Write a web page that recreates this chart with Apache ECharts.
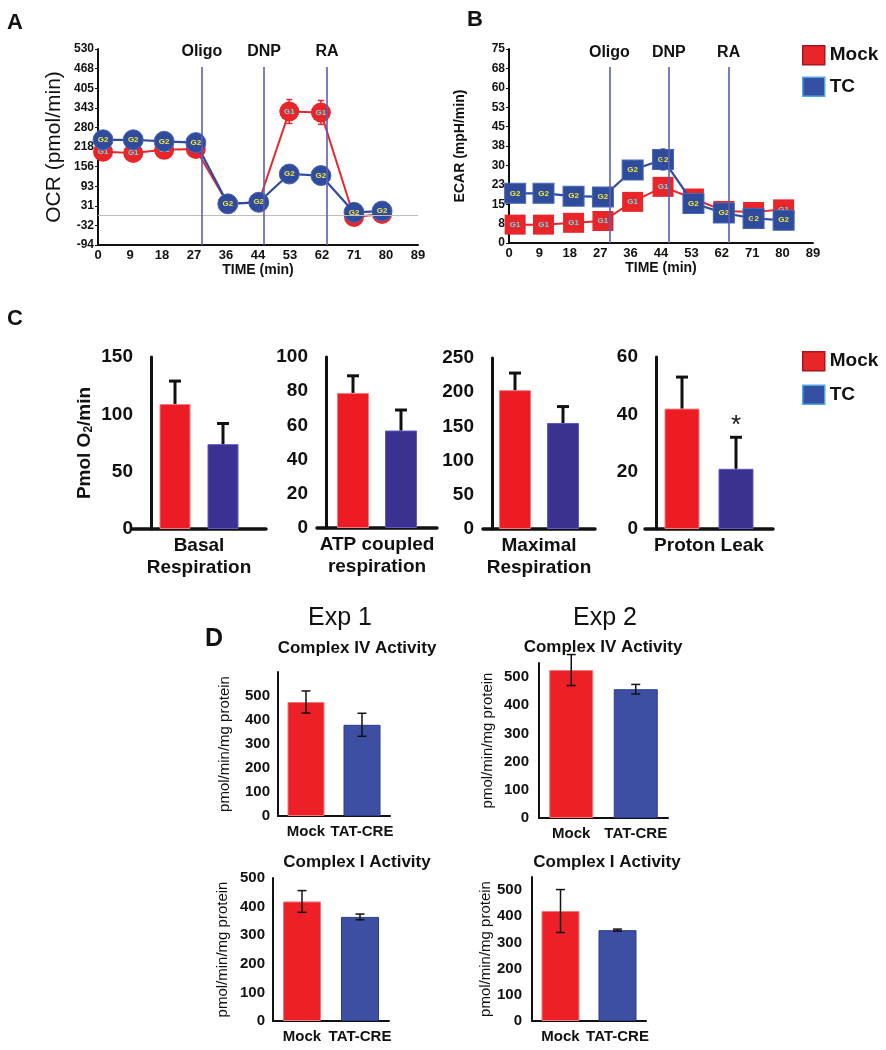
<!DOCTYPE html>
<html>
<head>
<meta charset="utf-8">
<title>OCR / ECAR / complex activity</title>
<script src="https://cdn.jsdelivr.net/npm/echarts@6.0.0/dist/echarts.min.js"></script>
<style>
  html, body { margin: 0; padding: 0; background: #fff; }
  #main { width: 886px; height: 1050px; }
</style>
</head>
<body>
<div id="main"></div>
<script>
// ---------- data ----------
// A: OCR seahorse trace
var timeA = [1.4, 9.8, 18.4, 27.2, 36.1, 44.7, 53.2, 62.0, 71.2, 79.0];
var ocrMock = [203, 199, 209, 212, 37, 42, 331, 328, -5, 5];
var ocrMockErr = [0, 0, 0, 0, 0, 0, 38, 38, 0, 0];
var ocrTC = [241, 241, 236, 232, 37, 42, 132, 127, 10, 14];
var ocrTicks = ['-94', '-32', '31', '93', '156', '218', '280', '343', '405', '468', '530'];
var injectA = [28.9, 46.2, 63.7];

// B: ECAR trace
var timeB = [1.8, 10.1, 18.9, 27.5, 36.2, 45.1, 54.0, 62.9, 71.6, 80.4];
var ecarMock = [7.1, 7.1, 7.8, 8.5, 15.9, 21.7, 17.2, 12.4, 12.0, 13.0];
var ecarTC = [19.2, 19.2, 18.1, 17.8, 28.2, 32.3, 15.3, 11.6, 9.5, 8.8];
var ecarTCErr = [0, 0, 0, 0, 0, 4, 0, 0, 3.5, 0];
var ecarTicks = ['0', '8', '15', '23', '30', '38', '45', '53', '60', '68', '75'];
var injectB = [29.4, 46.8, 64.3];

var injectNames = ['Oligo', 'DNP', 'RA'];
var timeTicks = ['0', '9', '18', '27', '36', '44', '53', '62', '71', '80', '89'];

// C: respiration parameters
var cCats = ['Basal\nRespiration', 'ATP coupled\nrespiration', 'Maximal\nRespiration', 'Proton Leak'];
var cMock = [109, 79, 203, 42];
var cMockErr = [20, 10, 25, 11];
var cTC = [74, 57, 155, 21];
var cTCErr = [18, 12, 24, 11];
var cSig = ['', '', '', '*'];
var cMax = [150, 100, 250, 60];
var cStep = [50, 20, 50, 20];

// D: complex activities
var dTitles = ['Complex IV Activity', 'Complex IV Activity', 'Complex I Activity', 'Complex I Activity'];
var dCats = ['Mock', 'TAT-CRE'];
var dMock = [475, 525, 418, 420];
var dMockErr = [46, 55, 38, 82];
var dTat = [380, 457, 364, 347];
var dTatErr = [48, 17, 10, 4];
var dMax = [600, 550, 500, 550];

// ---------- styling / layout ----------
var FONT = '"Liberation Sans", Arial, Helvetica, sans-serif';
var RED = '#E8262A', BLUE = '#2F4C9C';
var INK = '#111';
var shiftA = -(-94);   // OCR axis starts at -94; values shifted so min is 0
var ocrStep = 62.4, timeStep = 8.9;

var grids = [], xAxes = [], yAxes = [], series = [];

function addPanel(grid, xa, ya) {
  var k = grids.length;
  grids.push(grid);
  xa.gridIndex = k; ya.gridIndex = k;
  xAxes.push(xa); yAxes.push(ya);
  return k;
}

function errBar(o) {
  return function (params, api) {
    var x = api.value(0), y = api.value(1), e = api.value(2);
    if (!e) return;
    var top = api.coord([x, y + e]);
    var bot = o.up ? api.coord([x, y]) : api.coord([x, y - e]);
    var cx = top[0] + (o.offset || 0), h = o.cap / 2;
    var st = { stroke: o.color, lineWidth: o.width };
    var kids = [
      { type: 'line', shape: { x1: cx, y1: top[1], x2: cx, y2: bot[1] }, style: st },
      { type: 'line', shape: { x1: cx - h, y1: top[1], x2: cx + h, y2: top[1] }, style: st }
    ];
    if (!o.up) kids.push({ type: 'line', shape: { x1: cx - h, y1: bot[1], x2: cx + h, y2: bot[1] }, style: st });
    if (o.sig) kids.push({ type: 'text', x: cx, y: top[1] + 2,
      style: { text: o.sig, fill: INK, font: '26px ' + FONT, align: 'center', verticalAlign: 'bottom', textAlign: 'center', textVerticalAlign: 'bottom' } });
    return { type: 'group', children: kids };
  };
}

function traceX() {
  return {
    type: 'value', min: 0, max: 89, interval: timeStep,
    axisLine: { onZero: false, lineStyle: { color: INK, width: 2 } },
    axisTick: { show: false }, splitLine: { show: false },
    axisLabel: { formatter: function (v) { return timeTicks[Math.round(v / timeStep)]; },
      fontWeight: 'bold', fontSize: 13, color: INK, margin: 4 },
    name: 'TIME (min)', nameLocation: 'middle', nameGap: 17,
    nameTextStyle: { fontWeight: 'bold', fontSize: 14, color: INK }
  };
}

function injectLines(times, top) {
  return {
    silent: true, symbol: ['none', 'none'],
    lineStyle: { color: '#5C5EB3', width: 1.6, type: 'solid' },
    label: { show: true, position: 'end', formatter: '{b}', fontWeight: 'bold', fontSize: 16, color: INK, distance: 7 },
    data: times.map(function (t, i) { return [{ name: injectNames[i], coord: [t, 0] }, { coord: [t, top] }]; })
  };
}

// ---------- A ----------
var gA = addPanel({ left: 98, top: 49, width: 320, height: 196 }, traceX(), {
  type: 'value', min: 0, max: 624, interval: ocrStep,
  axisLine: { show: true, lineStyle: { color: INK, width: 2 } },
  axisTick: { show: true, length: 3, lineStyle: { color: INK } }, splitLine: { show: false },
  axisLabel: { formatter: function (v) { return ocrTicks[Math.round(v / ocrStep)]; },
    fontWeight: 'bold', fontSize: 12, color: INK, margin: 4 },
  name: 'OCR (pmol/min)', nameLocation: 'middle', nameGap: 33,
  nameTextStyle: { fontSize: 21, color: INK }
});
series.push({
  name: 'Mock', type: 'line', xAxisIndex: gA, yAxisIndex: gA, z: 3,
  data: timeA.map(function (t, i) { return [t, ocrMock[i] + shiftA]; }),
  symbol: 'circle', symbolSize: 20, itemStyle: { color: RED }, lineStyle: { color: RED, width: 2 },
  label: { show: true, position: 'inside', formatter: 'G1', fontSize: 8, fontWeight: 'bold', color: '#5FE0E8' },
  markLine: { silent: true, symbol: ['none', 'none'], label: { show: false },
    lineStyle: { color: '#BDBDBD', width: 1, type: 'solid' }, data: [{ yAxis: shiftA }] }
});
series.push({
  type: 'custom', xAxisIndex: gA, yAxisIndex: gA, z: 2,
  data: timeA.map(function (t, i) { return [t, ocrMock[i] + shiftA, ocrMockErr[i]]; }),
  encode: { x: 0, y: 1 }, renderItem: errBar({ color: RED, width: 1.5, cap: 6 })
});
series.push({
  name: 'TC', type: 'line', xAxisIndex: gA, yAxisIndex: gA, z: 4,
  data: timeA.map(function (t, i) { return [t, ocrTC[i] + shiftA]; }),
  symbol: 'circle', symbolSize: 20, itemStyle: { color: BLUE, borderColor: '#4A67B8', borderWidth: 1 },
  lineStyle: { color: BLUE, width: 2.2 },
  label: { show: true, position: 'inside', formatter: 'G2', fontSize: 8, fontWeight: 'bold', color: '#F2E640' },
  markLine: injectLines(injectA, 473 + shiftA)
});

// ---------- B ----------
var gB = addPanel({ left: 509, top: 49, width: 304, height: 194 }, traceX(), {
  type: 'value', min: 0, max: 75, interval: 7.5,
  axisLine: { show: true, lineStyle: { color: INK, width: 2 } },
  axisTick: { show: true, length: 3, lineStyle: { color: INK } }, splitLine: { show: false },
  axisLabel: { formatter: function (v) { return ecarTicks[Math.round(v / 7.5)]; },
    fontWeight: 'bold', fontSize: 12, color: INK, margin: 4 },
  name: 'ECAR (mpH/min)', nameLocation: 'middle', nameGap: 42,
  nameTextStyle: { fontSize: 14, fontWeight: 'bold', color: INK }
});
series.push({
  name: 'Mock', type: 'line', xAxisIndex: gB, yAxisIndex: gB, z: 3,
  data: timeB.map(function (t, i) { return [t, ecarMock[i]]; }),
  symbol: 'rect', symbolSize: [21, 20], itemStyle: { color: RED }, lineStyle: { color: RED, width: 2 },
  label: { show: true, position: 'inside', formatter: 'G1', fontSize: 8, fontWeight: 'bold', color: '#5FE0E8' }
});
series.push({
  name: 'TC', type: 'line', xAxisIndex: gB, yAxisIndex: gB, z: 4,
  data: timeB.map(function (t, i) { return [t, ecarTC[i]]; }),
  symbol: 'rect', symbolSize: [21, 20], itemStyle: { color: BLUE, borderColor: '#4A67B8', borderWidth: 1 },
  lineStyle: { color: BLUE, width: 2.2 },
  label: { show: true, position: 'inside', formatter: 'G2', fontSize: 8, fontWeight: 'bold', color: '#F2E640' },
  markLine: injectLines(injectB, 68)
});
series.push({
  type: 'custom', xAxisIndex: gB, yAxisIndex: gB, z: 5,
  data: timeB.map(function (t, i) { return [t, ecarTC[i], ecarTCErr[i]]; }),
  encode: { x: 0, y: 1 }, renderItem: errBar({ color: BLUE, width: 1.5, cap: 5 })
});

// ---------- C ----------
var cGrid = [
  { left: 132, top: 357, width: 134, height: 172, off: -19, bw: 31, gap: 17 },
  { left: 317, top: 357, width: 120, height: 171, off: -9, bw: 32, gap: 16 },
  { left: 483, top: 358, width: 112, height: 171, off: -9, bw: 32, gap: 16 },
  { left: 645, top: 357, width: 128, height: 172, off: -11, bw: 35, gap: 19 }
];
cCats.forEach(function (cat, i) {
  var g = cGrid[i];
  var k = addPanel({ left: g.left, top: g.top, width: g.width, height: g.height }, {
    type: 'category', data: [cat],
    axisLine: { lineStyle: { color: INK, width: 3.5 } }, axisTick: { show: false },
    axisLabel: { fontWeight: 'bold', fontSize: 19, lineHeight: 22, color: INK, margin: 6 }
  }, {
    type: 'value', min: 0, max: cMax[i], interval: cStep[i], offset: g.off,
    axisLine: { show: true, lineStyle: { color: INK, width: 3 } }, axisTick: { show: false },
    splitLine: { show: false },
    axisLabel: { fontWeight: 'bold', fontSize: 19, color: INK, margin: 18 },
    name: i === 0 ? '{a|Pmol O}{s|2}{a|/min}' : '', nameLocation: 'middle', nameGap: 56,
    nameTextStyle: { rich: { a: { fontWeight: 'bold', fontSize: 19, color: INK },
      s: { fontWeight: 'bold', fontSize: 12, color: INK, verticalAlign: 'bottom', padding: [8, 0, 0, 0] } } }
  });
  var half = (g.bw + g.gap) / 2;
  series.push({ name: 'Mock', type: 'bar', xAxisIndex: k, yAxisIndex: k, data: [cMock[i]],
    barWidth: g.bw, barGap: (g.gap / g.bw * 100) + '%',
    itemStyle: { color: '#ED1C24', borderColor: '#F47A80', borderWidth: 1 } });
  series.push({ name: 'TC', type: 'bar', xAxisIndex: k, yAxisIndex: k, data: [cTC[i]],
    barWidth: g.bw, barGap: (g.gap / g.bw * 100) + '%',
    itemStyle: { color: '#3A3190', borderColor: '#5E58C2', borderWidth: 1 } });
  series.push({ type: 'custom', xAxisIndex: k, yAxisIndex: k, z: 5,
    data: [[cat, cMock[i], cMockErr[i]]], encode: { x: 0, y: 1 },
    renderItem: errBar({ color: INK, width: 3, cap: 12, up: true, offset: -half }) });
  series.push({ type: 'custom', xAxisIndex: k, yAxisIndex: k, z: 5,
    data: [[cat, cTC[i], cTCErr[i]]], encode: { x: 0, y: 1 },
    renderItem: errBar({ color: INK, width: 3, cap: 12, up: true, offset: half, sig: cSig[i] }) });
});

// ---------- D ----------
var dGrid = [
  { left: 278, top: 672, width: 112, height: 144, bw: 37, gap: 46, lm: 8 },
  { left: 539, top: 663, width: 129, height: 155, bw: 44, gap: 44, lm: 10 },
  { left: 273, top: 878, width: 116, height: 143, bw: 38, gap: 43, lm: 8 },
  { left: 532, top: 877, width: 114, height: 144, bw: 38, gap: 37, lm: 10 }
];
dTitles.forEach(function (t, i) {
  var g = dGrid[i];
  var k = addPanel({ left: g.left, top: g.top, width: g.width, height: g.height }, {
    type: 'category', data: dCats,
    axisLine: { lineStyle: { color: INK, width: 2 } }, axisTick: { show: false },
    axisLabel: { fontWeight: 'bold', fontSize: 15, color: INK, margin: 8, interval: 0 }
  }, {
    type: 'value', min: 0, max: dMax[i], interval: 100,
    axisLine: { show: true, lineStyle: { color: INK, width: 2 } }, axisTick: { show: false },
    splitLine: { show: false },
    axisLabel: { formatter: function (v) { return v > 500 ? '' : v; },
      fontWeight: 'bold', fontSize: 15, color: INK, margin: g.lm },
    name: 'pmol/min/mg protein', nameLocation: 'middle', nameGap: g.gap,
    nameTextStyle: { fontSize: 15, color: INK }
  });
  series.push({ type: 'bar', xAxisIndex: k, yAxisIndex: k, barWidth: g.bw,
    data: [
      { value: dMock[i], itemStyle: { color: '#ED2027', borderColor: '#F2777B', borderWidth: 1 } },
      { value: dTat[i], itemStyle: { color: '#3C4FA3', borderColor: '#2C3D8F', borderWidth: 1 } }
    ] });
  series.push({ type: 'custom', xAxisIndex: k, yAxisIndex: k, z: 5,
    data: [[dCats[0], dMock[i], dMockErr[i]], [dCats[1], dTat[i], dTatErr[i]]],
    encode: { x: 0, y: 1 }, renderItem: errBar({ color: INK, width: 1.5, cap: 9 }) });
});

// ---------- texts ----------
function txt(x, y, s, font, align, valign) {
  return { type: 'text', x: x, y: y, silent: true,
    style: { text: s, fill: INK, font: font, align: align || 'center', verticalAlign: valign || 'middle',
      textAlign: align || 'center', textVerticalAlign: valign || 'middle' } };
}
var graphics = [
  txt(7, 12, 'A', 'bold 22px ' + FONT, 'left', 'top'),
  txt(467, 9, 'B', 'bold 22px ' + FONT, 'left', 'top'),
  txt(7, 308, 'C', 'bold 22px ' + FONT, 'left', 'top'),
  txt(205, 627, 'D', 'bold 25px ' + FONT, 'left', 'top'),
  txt(340, 618, 'Exp 1', '25px ' + FONT),
  txt(605, 618, 'Exp 2', '25px ' + FONT),
  txt(357, 648, dTitles[0], 'bold 17px ' + FONT),
  txt(603, 647, dTitles[1], 'bold 17px ' + FONT),
  txt(357, 862, dTitles[2], 'bold 17px ' + FONT),
  txt(607, 862, dTitles[3], 'bold 17px ' + FONT)
];

function legendAt(top, gap) {
  return {
    left: 802, top: top, orient: 'vertical', padding: 0, itemWidth: 22, itemHeight: 19, itemGap: gap,
    selectedMode: false,
    textStyle: { fontWeight: 'bold', fontSize: 19, color: INK },
    data: [
      { name: 'Mock', icon: 'rect', itemStyle: { color: RED, borderColor: '#A8161B', borderWidth: 1.5 } },
      { name: 'TC', icon: 'rect', itemStyle: { color: '#3350A2', borderColor: '#4FA8E6', borderWidth: 1.5 } }
    ]
  };
}

var myChart = echarts.init(document.getElementById('main'));
myChart.setOption({
  animation: false,
  backgroundColor: '#fff',
  textStyle: { fontFamily: FONT },
  legend: [legendAt(45, 11), legendAt(351, 13)],
  grid: grids,
  xAxis: xAxes,
  yAxis: yAxes,
  series: series,
  graphic: graphics
});
</script>
</body>
</html>
